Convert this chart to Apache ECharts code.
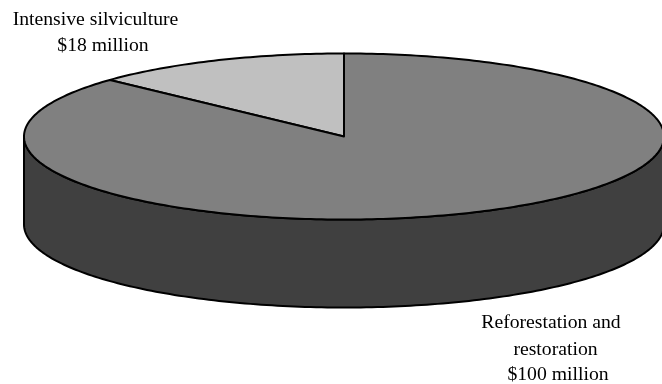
<!DOCTYPE html>
<html>
<head>
<meta charset="utf-8">
<style>html,body{margin:0;padding:0;background:#fff}#chart{width:662px;height:384px}</style>
<script src="https://cdn.jsdelivr.net/npm/echarts@6/dist/echarts.min.js"></script>
</head>
<body>
<div id="chart"></div>
<script>
// Forest spending, in millions of dollars
const categories = ['Intensive silviculture', 'Reforestation and restoration'];
const values = [18, 100];
const labelLines = [
  ['Intensive silviculture', '$18 million'],
  ['Reforestation and', 'restoration', '$100 million']
];
const topColors = ['#c0c0c0', '#808080'];
const wallColor = '#404040';

// Tilted disc geometry
const cx = 344, cy = 136.5, rx = 320, ry = 83, depth = 88;
const foreshorten = 0.754;   // the disc's angles compress along the line of sight
const outline = 2;
const labelAnchors = [
  [[95.5, 20], [103, 46]],
  [[551, 323], [555.5, 350], [558, 375]]
];
const total = values.reduce((a, b) => a + b, 0);
const arcSteps = 360;

// Slices run counter-clockwise from twelve o'clock; returns the unwrapped ellipse parameter
function viewAngle(share) {
  const theta = share * 2 * Math.PI;
  const t = Math.atan2(foreshorten * Math.sin(theta), Math.cos(theta));
  return t < 0 ? t + 2 * Math.PI : (share >= 1 ? 2 * Math.PI : t);
}
function rimAt(t, drop) {
  return [cx - rx * Math.sin(t), cy - ry * Math.cos(t) + (drop || 0)];
}

const rows = categories.map((name, i) => {
  const before = values.slice(0, i).reduce((a, b) => a + b, 0);
  return [i, before / total, (before + values[i]) / total];
});

function sliceElement(share0, share1, fill) {
  const t0 = viewAngle(share0), t1 = viewAngle(share1);
  const n = Math.max(2, Math.round(arcSteps * (t1 - t0) / (2 * Math.PI)));
  const points = [[cx, cy]];
  for (let k = 0; k <= n; k++) points.push(rimAt(t0 + (t1 - t0) * k / n));
  return {
    type: 'polygon',
    shape: { points: points },
    style: { fill: fill, stroke: '#000', lineWidth: outline, lineJoin: 'round' }
  };
}

// Visible side of the disc: the front half of the rim and the same arc dropped by the depth
function wallElement() {
  const points = [];
  for (let k = 0; k <= arcSteps / 2; k++) points.push(rimAt(Math.PI / 2 + Math.PI * k / (arcSteps / 2)));
  for (let k = arcSteps / 2; k >= 0; k--) points.push(rimAt(Math.PI / 2 + Math.PI * k / (arcSteps / 2), depth));
  return {
    type: 'polygon',
    shape: { points: points },
    style: { fill: wallColor, stroke: '#000', lineWidth: outline, lineJoin: 'round' }
  };
}

function renderItem(params, api) {
  const i = api.value(0);
  const children = [];
  if (i === 0) children.push(wallElement());
  children.push(sliceElement(api.value(1), api.value(2), topColors[i]));
  labelLines[i].forEach((line, j) => {
    children.push({
      type: 'text',
      style: {
        text: line,
        x: labelAnchors[i][j][0], y: labelAnchors[i][j][1],
        align: 'center', verticalAlign: 'middle',
        font: '19.7px "Liberation Serif"', fill: '#000'
      }
    });
  });
  return { type: 'group', children: children };
}

const chart = echarts.init(document.getElementById('chart'), null, { renderer: 'canvas' });
chart.setOption({
  animation: false,
  backgroundColor: '#fff',
  series: [{
    type: 'custom',
    coordinateSystem: 'none',
    renderItem: renderItem,
    data: rows,
    clip: false
  }]
});
</script>
</body>
</html>
